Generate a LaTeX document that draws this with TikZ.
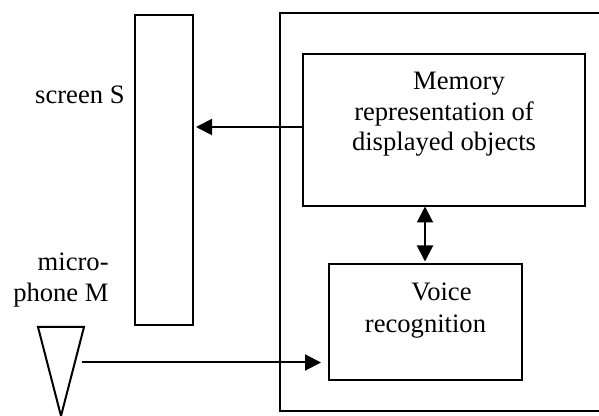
\documentclass[tikz,border=0pt]{standalone}
\usepackage{fontspec}
\setmainfont{Liberation Serif}
\usetikzlibrary{arrows.meta}
\tikzset{
  pxbox/.style={draw,line width=1pt,inner sep=0pt,align=center},
  pxlabel/.style={inner sep=0pt,align=right,anchor=east},
  link/.style={line width=1pt,-{Triangle[length=8pt,width=8pt]}},
  biglink/.style={line width=1pt,{Triangle[length=8pt,width=8pt]}-{Triangle[length=8pt,width=8pt]}}
}
\begin{document}
\begin{tikzpicture}[x=0.5pt,y=-0.5pt,font=\fontsize{13.3}{15.2}\selectfont]
  \useasboundingbox (0,0) rectangle (599,416);
  \node[pxbox,minimum width=29pt,minimum height=155pt] (screen) at (164,170) {};
  \node[pxbox,minimum width=170pt,minimum height=199pt] (system) at (450,212) {};
  \node[pxbox,minimum width=141pt,minimum height=76pt] (memory) at (444,130.5)
    {\hspace*{15pt}Memory\\representation of\\displayed objects\\[4pt]\mbox{}};
  \node[pxbox,minimum width=96.5pt,minimum height=57.5pt] (voice) at (425.5,322)
    {\hspace*{16pt}Voice\\[1pt]recognition\\[-1pt]\mbox{}};
  \node[pxlabel] (screenlabel) at (125,95) {screen S};
  \node[pxlabel] (miclabel) at (109,280) {micro-\\phone M};
  % microphone
  \coordinate (micleft) at (38,327);
  \coordinate (micright) at (84,327);
  \coordinate (mictip) at (61,416);
  \draw[line width=1pt] (micleft) -- (micright) -- (mictip) -- cycle;
  % connectors
  \coordinate (micout) at (82,362.5);
  \coordinate (memout) at (303,127);
  \coordinate (memlink) at (425,206.5);
  \draw[link,shorten >=3.5pt] (micout) -- (micout -| voice.west);
  \draw[link,shorten >=1pt] (memout) -- (memout -| screen.east);
  \draw[biglink,shorten >=1pt] (memlink) -- (memlink |- voice.north);
\end{tikzpicture}
\end{document}
